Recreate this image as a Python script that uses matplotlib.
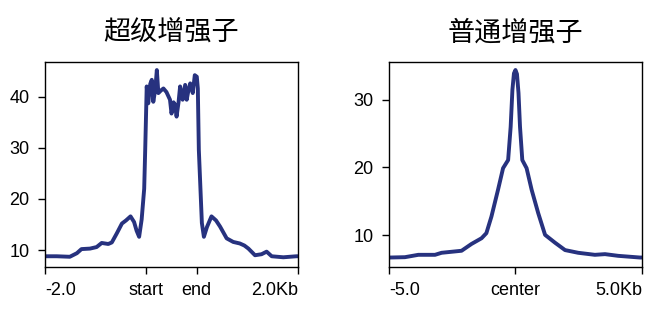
import matplotlib.pyplot as plt
import numpy as np

# super-enhancer profile: x in kb of scaled region (0=-2.0, 2=start, 3=end, 5=2.0Kb)
super_x = [0.00, 0.03, 0.23, 0.49, 0.63, 0.72, 0.89, 1.02, 1.12, 1.25, 1.32, 1.42,
           1.52, 1.60, 1.69, 1.76, 1.81, 1.86, 1.91, 1.96, 1.98, 2.01, 2.04, 2.08,
           2.11, 2.14, 2.18, 2.21, 2.24, 2.29, 2.34, 2.40, 2.47, 2.50, 2.54, 2.57,
           2.60, 2.64, 2.67, 2.72, 2.77, 2.80, 2.84, 2.87, 2.92, 2.96, 3.00, 3.02,
           3.04, 3.10, 3.14, 3.20, 3.29, 3.38, 3.46, 3.59, 3.72, 3.85, 3.94, 4.02,
           4.15, 4.28, 4.38, 4.48, 4.71, 4.97, 5.00]
super_y = [8.8, 8.8, 8.8, 8.7, 9.4, 10.2, 10.3, 10.6, 11.4, 11.2, 11.5, 13.3,
           15.2, 15.8, 16.6, 15.5, 13.8, 12.6, 16.0, 22.0, 29.6, 42.0, 38.7, 42.5,
           43.3, 39.0, 41.5, 45.2, 40.7, 41.2, 41.6, 40.9, 39.4, 36.7, 38.9, 38.4,
           36.1, 39.0, 42.0, 39.4, 42.3, 39.4, 41.5, 42.6, 40.7, 44.2, 43.9, 41.6,
           29.6, 15.3, 12.6, 14.5, 16.6, 15.8, 14.6, 12.3, 11.6, 11.3, 10.9, 10.3,
           9.0, 9.2, 9.7, 8.8, 8.6, 8.8, 8.8]
super_ticks = [0, 2, 3, 5]
super_labels = ['-2.0', 'start', 'end', '2.0Kb']

# typical enhancer profile: x in kb around center
typ_x = [-5.00, -4.96, -4.37, -3.84, -3.18, -2.92, -2.13, -1.74, -1.34, -1.15, -0.95,
         -0.69, -0.49, -0.29, -0.19, -0.12, -0.06, 0.00, 0.06, 0.12, 0.18, 0.27, 0.44,
         0.64, 0.90, 1.17, 1.56, 1.96, 2.48, 3.14, 3.54, 4.06, 4.92, 5.00]
typ_y = [6.7, 6.7, 6.75, 7.1, 7.1, 7.4, 7.7, 8.7, 9.55, 10.3, 12.75,
         16.7, 19.9, 21.1, 26.0, 31.5, 33.9, 34.4, 33.8, 31.0, 26.0, 21.1, 19.9,
         16.7, 13.25, 10.05, 8.9, 7.8, 7.4, 7.1, 7.2, 6.95, 6.7, 6.7]
typ_ticks = [-5, 0, 5]
typ_labels = ['-5.0', 'center', '5.0Kb']

titles = ['超级增强子', '普通增强子']

line_color = '#27327f'
tick_font = 'Liberation Sans'
title_font = ['Noto Sans CJK SC', 'DejaVu Sans']

fig = plt.figure(figsize=(6.64, 3.19), dpi=100)
ax1 = fig.add_axes([0.0678, 0.163, 0.381, 0.643])
ax2 = fig.add_axes([0.5858, 0.163, 0.381, 0.643])

panels = [
    (ax1, super_x, super_y, super_ticks, super_labels, (0, 5), (6.7, 46.8), [10, 20, 30, 40],
     ['left', 'center', 'center', 'right']),
    (ax2, typ_x, typ_y, typ_ticks, typ_labels, (-5, 5), (5.3, 35.6), [10, 20, 30],
     ['left', 'center', 'right']),
]

for i, (ax, x, y, xt, xl, xlim, ylim, yt, has) in enumerate(panels):
    ax.plot(x, y, color=line_color, linewidth=2.8, solid_joinstyle='round')
    ax.set_xlim(*xlim)
    ax.set_ylim(*ylim)
    ax.set_xticks(xt)
    ax.set_xticklabels(xl, fontfamily=tick_font, fontsize=13)
    for lab, ha in zip(ax.get_xticklabels(), has):
        lab.set_ha(ha)
    ax.set_yticks(yt)
    ax.set_yticklabels([str(v) for v in yt], fontfamily=tick_font, fontsize=13)
    ax.tick_params(direction='out', length=5, width=1.0, pad=6, colors='black')
    for s in ax.spines.values():
        s.set_linewidth(1.0)
    ax.set_title(titles[i], fontfamily=title_font, fontsize=19.5, fontweight='light', pad=15)

fig.savefig('out.png', dpi=100)
